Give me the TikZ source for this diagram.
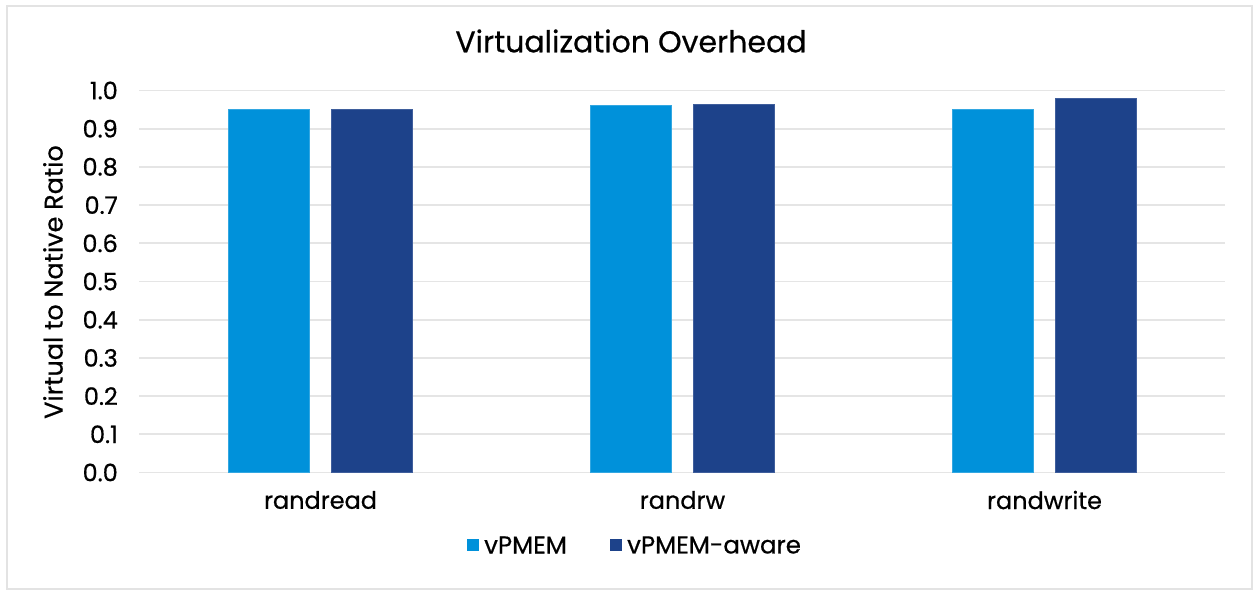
\documentclass[tikz,border=0pt]{standalone}
\usepackage{fontspec}
\setmainfont{Poppins}[FakeBold=0.6]
\begin{document}
\begin{tikzpicture}[x=1pt,y=-1pt,
  grid/.style={draw=gray!20,line width=1.8pt},
  frame/.style={draw=gray!22,line width=1.5pt},
  barA/.style={fill=lightbar,draw=lightbar!80!white,line width=0.6pt},
  barB/.style={fill=darkbar,draw=darkbar!85!white,line width=0.6pt},
  tick/.style={anchor=east,font=\fontsize{24}{26}\selectfont,inner sep=0pt},
  cat/.style={font=\fontsize{24}{26}\selectfont,inner sep=0pt},
  legtext/.style={anchor=west,font=\fontsize{24.5}{26}\selectfont,inner sep=0pt},
]
\definecolor{lightbar}{HTML}{0091DA}
\definecolor{darkbar}{HTML}{1D428A}
\useasboundingbox (0,0) rectangle (1253,590);
\fill[white] (0,0) rectangle (1253,590);
\draw[frame] (7,6) rectangle (1252,589);

% horizontal gridlines and tick labels: 0.0 at y=472.5, 38.2 per 0.1
\foreach \i/\lab in {0/0.0,1/0.1,2/0.2,3/0.3,4/0.4,5/0.5,6/0.6,7/0.7,8/0.8,9/0.9,10/1.0}{
  \draw[grid] (139,{472.5-38.2*\i}) -- (1225,{472.5-38.2*\i});
  \node[tick] (t\i) at (118,{472.5-38.2*\i}) {\lab};
}

% bars (value v -> top at 472.5-382*v)
\foreach \c/\va/\vb [count=\k from 0] in {320.5/0.95/0.95, 682.5/0.96/0.963, 1044.5/0.95/0.98}{
  \fill[barA] ({\c-92},472.5) rectangle ({\c-11},{472.5-382*\va});
  \fill[barB] ({\c+11},472.5) rectangle ({\c+92},{472.5-382*\vb});
}

% category labels
\node[cat] (c1) at (320.5,500) {randread};
\node[cat] (c2) at (682.5,500) {randrw};
\node[cat] (c3) at (1044.5,500) {randwrite};

% title and axis label
\node[font=\fontsize{30}{32}\selectfont,inner sep=0pt] (title) at (631,41) {Virtualization Overhead};
\node[rotate=90,font=\fontsize{25.5}{27}\selectfont,inner sep=0pt] (ylab) at (53,282) {Virtual to Native Ratio};

% legend
\fill[lightbar] (467,539) rectangle (479,551);
\node[legtext] (l1) at (484,545) {vPMEM};
\fill[darkbar] (610,539) rectangle (622,551);
\node[legtext] (l2) at (627,545) {vPMEM-aware};
\end{tikzpicture}
\end{document}
